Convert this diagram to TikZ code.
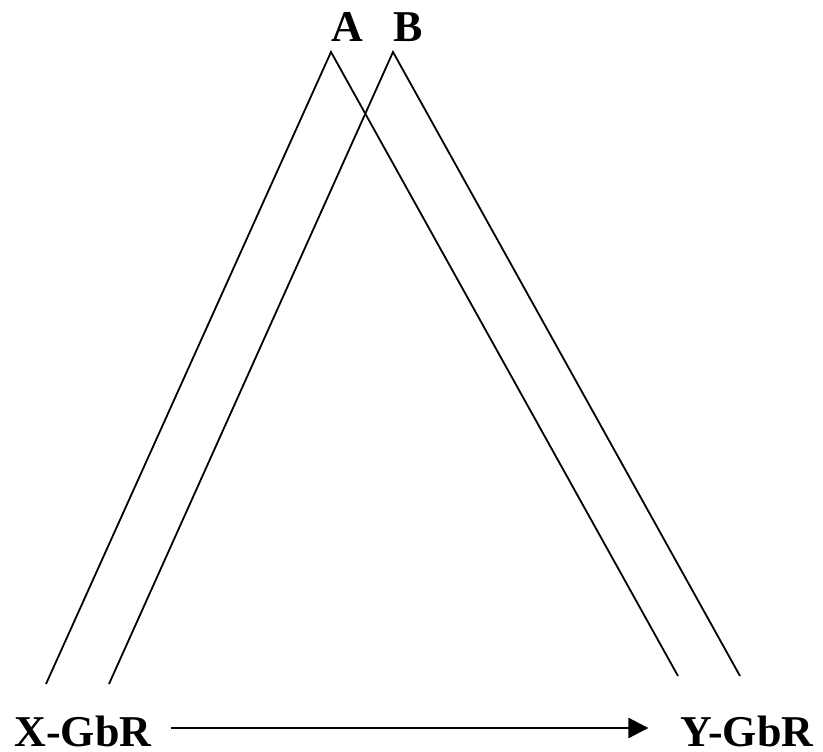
\documentclass[tikz,border=0pt]{standalone}
\usepackage{fontspec}
\setmainfont{Liberation Serif}
\usetikzlibrary{arrows.meta}
\tikzset{lbl/.style={inner sep=0pt, font=\fontsize{44}{48}\selectfont\bfseries}}
\begin{document}
\begin{tikzpicture}[x=1pt, y=-1pt, >={Triangle[length=20pt,width=20pt]}]
\useasboundingbox (0,0) rectangle (823,752);
% the two bands
\coordinate (a1) at (46,684); \coordinate (a2) at (331,52); \coordinate (a3) at (678,676);
\coordinate (b1) at (109,684); \coordinate (b2) at (393,52); \coordinate (b3) at (740,676);
\draw[line width=1.8pt](a1)--(a2)--(a3);
\draw[line width=1.8pt](b1)--(b2)--(b3);
\node[lbl] (A) at (347,27) {A};
\node[lbl] (B) at (408,27) {B};
% firms
\node[lbl] (xg) at (83,731) {X-GbR};
\node[lbl] (yg) at (747,731) {Y-GbR};
\draw[->, line width=2.8pt, shorten <=19pt, shorten >=32pt]([yshift=3pt]xg.east)--([yshift=3pt]yg.west);
\end{tikzpicture}
\end{document}
